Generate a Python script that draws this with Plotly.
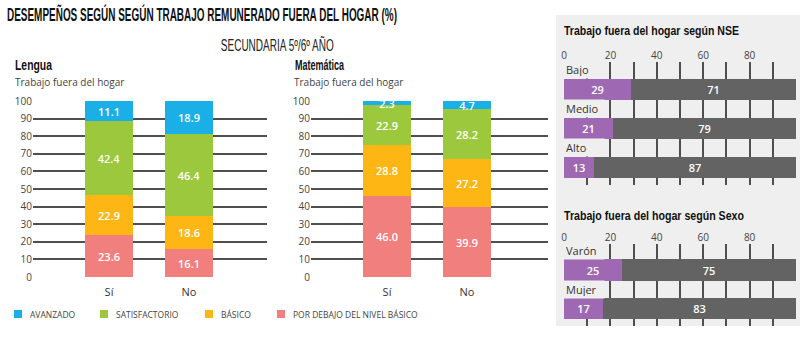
import json
import plotly.graph_objects as go

# ---------------- data ----------------
categories_left = ["Sí", "No"]
levels = ["AVANZADO", "SATISFACTORIO", "BÁSICO", "POR DEBAJO DEL NIVEL BÁSICO"]

lengua_debajo = [23.6, 16.1]
lengua_basico = [22.9, 18.6]
lengua_satisf = [42.4, 46.4]
lengua_avanzado = [11.1, 18.9]

mate_debajo = [46.0, 39.9]
mate_basico = [28.8, 27.2]
mate_satisf = [22.9, 28.2]
mate_avanzado = [2.3, 4.7]

nse_categories = ["Bajo", "Medio", "Alto"]
nse_trabaja = [29, 21, 13]
nse_no_trabaja = [71, 79, 87]

sexo_categories = ["Varón", "Mujer"]
sexo_trabaja = [25, 17]
sexo_no_trabaja = [75, 83]

y_ticks_left = [0, 10, 20, 30, 40, 50, 60, 70, 80, 90, 100]
x_ticks_right = [0, 10, 20, 30, 40, 50, 60, 70, 80, 90, 100]
x_ticktext_right = ["0", "", "20", "", "40", "", "60", "", "80", "", "100"]

# ---------------- style ----------------
C_AV = "#1AAFE6"
C_SAT = "#9CC83D"
C_BAS = "#FDB614"
C_DEB = "#F07F7E"
C_PUR = "#9E68B3"
C_GRY = "#636363"
C_PANEL = "#EFEFEF"
GRID = "#4F4F4F"
W, H = 800, 364

level_colors = [C_AV, C_SAT, C_BAS, C_DEB]
HEAD = "Liberation Sans, Arial, sans-serif"
BODY = "Open Sans, Liberation Sans, sans-serif"

def px_x(v):
    return v / W

def px_y(v):
    return (H - v) / H

fig = go.Figure()

txtfont = dict(color="white", size=11, family=BODY, weight=600)

def add_stack(xa, ya, series):
    for vals, col in series:
        fig.add_trace(go.Bar(
            x=categories_left, y=vals, marker=dict(color=col, line=dict(width=0)),
            width=0.6, xaxis=xa, yaxis=ya, showlegend=False,
            texttemplate="%{y:.1f}", textposition="inside", insidetextanchor="middle",
            textangle=0, textfont=txtfont, hoverinfo="skip", cliponaxis=False,
        ))

add_stack("x", "y", [(lengua_debajo, C_DEB), (lengua_basico, C_BAS),
                     (lengua_satisf, C_SAT), (lengua_avanzado, C_AV)])
add_stack("x2", "y2", [(mate_debajo, C_DEB), (mate_basico, C_BAS),
                       (mate_satisf, C_SAT), (mate_avanzado, C_AV)])

def add_hstack(xa, ya, cats, series, width):
    for vals, col in series:
        fig.add_trace(go.Bar(
            y=cats, x=vals, orientation="h", marker=dict(color=col, line=dict(width=0)),
            width=width, xaxis=xa, yaxis=ya, showlegend=False,
            texttemplate="%{x}", textposition="inside", insidetextanchor="middle",
            textangle=0, textfont=txtfont, hoverinfo="skip",
        ))

add_hstack("x3", "y3", nse_categories, [(nse_trabaja, C_PUR), (nse_no_trabaja, C_GRY)], 0.54)
add_hstack("x4", "y4", sexo_categories, [(sexo_trabaja, C_PUR), (sexo_no_trabaja, C_GRY)], 0.55)

left_y = dict(range=[0, 100], tickvals=y_ticks_left, showgrid=True, gridcolor=GRID,
              gridwidth=1.5, zeroline=False, showline=False, ticks="", automargin=False,
              tickfont=dict(family=BODY, size=10, color="#444"),
              domain=[px_y(277), px_y(101)])
left_x_common = dict(type="category", showgrid=False, zeroline=False, showline=False,
                     ticks="", automargin=False, ticklabelstandoff=7,
                     tickfont=dict(family=BODY, size=11, color="#333"))

right_x_common = dict(range=[0, 100], tickvals=x_ticks_right, ticktext=x_ticktext_right,
                      showgrid=True, gridcolor=GRID, gridwidth=1.5, zeroline=False,
                      showline=False, ticks="", side="top", automargin=False,
                      tickfont=dict(family=BODY, size=10, color="#444"))
right_y_common = dict(type="category", showgrid=False, zeroline=False, showline=False,
                      showticklabels=False, ticks="", automargin=False)

fig.update_layout(
    template="none",
    width=W, height=H, margin=dict(l=0, r=0, t=0, b=0, pad=0), autosize=False,
    paper_bgcolor="white", plot_bgcolor="rgba(0,0,0,0)",
    barmode="stack", bargap=0, showlegend=False,
    uniformtext=dict(mode="show", minsize=11),
    xaxis=dict(domain=[px_x(33), px_x(267)], range=[-0.95, 1.975], anchor="y", **left_x_common),
    yaxis=dict(anchor="x", **left_y),
    xaxis2=dict(domain=[px_x(311), px_x(548)], range=[-0.95, 2.0125], anchor="y2", **left_x_common),
    yaxis2=dict(anchor="x2", **left_y),
    xaxis3=dict(domain=[px_x(564), px_x(796)], anchor="y3", **right_x_common),
    yaxis3=dict(domain=[px_y(185), px_y(62)], range=[2.449, -0.705], anchor="x3",
                categoryorder="array", categoryarray=nse_categories, **right_y_common),
    xaxis4=dict(domain=[px_x(564), px_x(796)], anchor="y4", **right_x_common),
    yaxis4=dict(domain=[px_y(326), px_y(244)], range=[1.455, -0.675], anchor="x4",
                categoryorder="array", categoryarray=sexo_categories, **right_y_common),
)

# right panel background
fig.add_shape(type="rect", xref="paper", yref="paper", x0=px_x(556), x1=1.0,
              y0=px_y(326), y1=px_y(15), fillcolor=C_PANEL, line=dict(width=0), layer="below")

ann = []
condense = {}  # annotation index -> [target width px, anchor, display font size]

def text(x, y, s, font, xanchor="left", yanchor="middle", squeeze=None, show_size=None):
    if squeeze is not None:
        condense[str(len(ann))] = [squeeze, xanchor, show_size or font["size"]]
    ann.append(dict(x=px_x(x), y=px_y(y), xref="paper", yref="paper", text=s, showarrow=False,
                    xanchor=xanchor, yanchor=yanchor, font=font))

text(5, 17, "DESEMPEÑOS SEGÚN SEGÚN TRABAJO REMUNERADO FUERA DEL HOGAR (%)",
     dict(family=HEAD, size=13, color="#111", weight="bold"), squeeze=390, show_size=18)
text(277, 44, "SECUNDARIA 5º/6º AÑO", dict(family=HEAD, size=16, color="#222"),
     xanchor="center", squeeze=113)
text(13, 64, "Lengua", dict(family=HEAD, size=15, color="#111", weight="bold"), squeeze=37)
text(293, 64, "Matemática", dict(family=HEAD, size=15, color="#111", weight="bold"), squeeze=49)
text(13, 82, "Trabajo fuera del hogar", dict(family=BODY, size=10, color="#444"))
text(292, 82, "Trabajo fuera del hogar", dict(family=BODY, size=10, color="#444"))
text(562, 30, "Trabajo fuera del hogar según NSE",
     dict(family=HEAD, size=13.5, color="#111", weight="bold"), squeeze=175)
text(562, 215, "Trabajo fuera del hogar según Sexo",
     dict(family=HEAD, size=13.5, color="#111", weight="bold"), squeeze=180)

# category labels for horizontal bars (with panel-coloured boxes over the grid)
for xa, ya, cats in [("x3", "y3", nse_categories), ("x4", "y4", sexo_categories)]:
    for i, c in enumerate(cats):
        ann.append(dict(x=0, y=i - 0.5, xref=xa, yref=ya, text=c, showarrow=False,
                        xanchor="left", yanchor="middle", align="left", xshift=-1,
                        width=36, height=13, borderpad=2, bgcolor=C_PANEL,
                        font=dict(family=BODY, size=11, color="#333")))

# legend
legend_x = [14, 100, 205, 277]
for name, col, lx in zip(levels, level_colors, legend_x):
    fig.add_shape(type="rect", xref="paper", yref="paper", x0=px_x(lx), x1=px_x(lx + 8),
                  y0=px_y(318), y1=px_y(310), fillcolor=col, line=dict(width=0))
    text(lx + 14, 314, name, dict(family=BODY, size=8.5, color="#444"))

fig.update_layout(annotations=ann)

post = """
document.body.style.margin = '0';
var gd = document.getElementById('{plot_id}');
var targets = %s;
gd.querySelectorAll('g.annotation').forEach(function(a) {
  var idx = a.getAttribute('data-index');
  if (!(idx in targets)) return;
  var t = a.querySelector('text.annotation-text');
  if (!t) return;
  var bb = t.getBBox();
  var w = targets[idx][0];
  var left = bb.x;
  if (targets[idx][1] === 'center') left = bb.x + (bb.width - w) / 2;
  t.style.fontSize = targets[idx][2] + 'px';
  t.setAttribute('text-anchor', 'start');
  t.setAttribute('x', left);
  t.setAttribute('textLength', w);
  t.setAttribute('lengthAdjust', 'spacingAndGlyphs');
  var r = t.parentNode.querySelector('rect.bg');
  if (r) {
    r.setAttribute('x', left - 1);
    r.setAttribute('width', w + 2);
  }
});
""" % json.dumps(condense)

fig.write_html("out.html", post_script=post, config={"displayModeBar": False})
